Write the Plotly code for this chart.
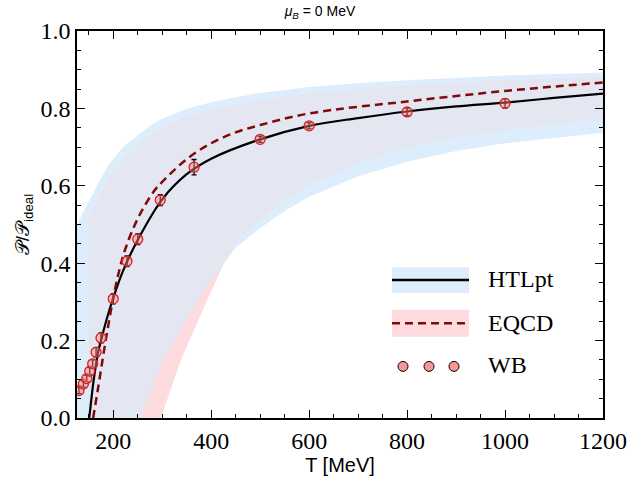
import numpy as np
import plotly.graph_objects as go

# ---------------- data ----------------
T_wb = [130, 139, 146, 152, 158, 165, 175, 200, 228, 250, 296, 365, 500, 600, 800, 1000]
P_wb = [0.071, 0.088, 0.102, 0.121, 0.140, 0.170, 0.207, 0.308, 0.405, 0.462, 0.563, 0.648,
        0.720, 0.755, 0.791, 0.813]
E_wb = [0.008, 0.008, 0.008, 0.009, 0.010, 0.012, 0.013, 0.013, 0.014, 0.014, 0.014, 0.020,
        0.008, 0.008, 0.010, 0.012]

T_htl = [151, 155, 159, 165, 170, 175, 180, 190, 200, 220, 250, 300, 350, 400, 500, 600,
         700, 800, 900, 1000, 1100, 1200]
P_htl = [0.0, 0.045, 0.088, 0.14, 0.175, 0.2, 0.225, 0.27, 0.31, 0.38, 0.46, 0.565, 0.63,
         0.67, 0.72, 0.755, 0.775, 0.792, 0.805, 0.815, 0.827, 0.838]

T_eqcd = [159, 170, 180, 190, 200, 212, 225, 250, 282, 300, 350, 400, 450, 500, 600, 800,
          1000, 1200]
P_eqcd = [0.0, 0.085, 0.165, 0.24, 0.31, 0.38, 0.438, 0.515, 0.584, 0.61, 0.669, 0.71,
          0.738, 0.757, 0.787, 0.818, 0.845, 0.867]

T_htl_up = [120, 126, 140, 153, 165, 175, 194, 220, 249, 275, 300, 325, 350, 400, 450, 500,
            600, 700, 800, 1000, 1200]
P_htl_up = [0.48, 0.498, 0.535, 0.567, 0.595, 0.62, 0.66, 0.70, 0.729, 0.755, 0.773, 0.787,
            0.799, 0.816, 0.829, 0.84, 0.855, 0.865, 0.873, 0.885, 0.893]
T_htl_lo = [120, 256, 280, 303, 340, 372, 400, 430, 450, 500, 550, 600, 700, 800, 900, 1000,
            1200]
P_htl_lo = [0.0, 0.0, 0.078, 0.15, 0.235, 0.30, 0.355, 0.405, 0.44, 0.49, 0.535, 0.572,
            0.625, 0.662, 0.69, 0.71, 0.737]

T_eq_up = [149, 175, 194, 220, 249, 275, 300, 350, 400, 450, 500, 600, 700, 800, 1000, 1200]
P_eq_up = [0.524, 0.58, 0.626, 0.67, 0.703, 0.73, 0.75, 0.776, 0.794, 0.808, 0.82, 0.837,
           0.849, 0.858, 0.872, 0.882]
T_eq_lo = [149, 297, 315, 338, 360, 390, 430, 450, 500, 550, 600, 700, 800, 900, 1000, 1200]
P_eq_lo = [0.0, 0.0, 0.065, 0.149, 0.215, 0.30, 0.41, 0.455, 0.515, 0.563, 0.603, 0.66,
           0.70, 0.725, 0.745, 0.775]

x_ticks = [200, 400, 600, 800, 1000, 1200]
y_ticks = [0.0, 0.2, 0.4, 0.6, 0.8, 1.0]

# ---------------- styling ----------------
SERIF = "Liberation Serif"
SANS = "Liberation Sans"
W, H = 640, 484
ML, MR, MT, MB = 77, 37, 31, 63
PW, PH = W - ML - MR, H - MT - MB

PINK = "rgb(253,219,222)"
BLUE = "rgb(221,237,251)"
OVER = "rgb(228,231,242)"
DRED = "rgb(128,10,10)"


def px(x):
    return (x - ML) / PW


def py(y):
    return (H - MB - y) / PH


# overlap region of the two bands (derived from the band edges)
grid = np.array(sorted(set(T_htl_up + T_htl_lo + T_eq_up + T_eq_lo +
                           list(range(150, 1201, 5)))), dtype=float)
grid = grid[grid >= T_eq_up[0]]
ov_up = np.minimum(np.interp(grid, T_htl_up, P_htl_up), np.interp(grid, T_eq_up, P_eq_up))
ov_lo = np.maximum(np.interp(grid, T_htl_lo, P_htl_lo), np.interp(grid, T_eq_lo, P_eq_lo))

fig = go.Figure()

fig.add_trace(go.Scatter(
    x=T_htl_up + T_htl_lo[::-1], y=P_htl_up + P_htl_lo[::-1],
    fill="toself", fillcolor=BLUE, line=dict(width=0), mode="lines",
    hoverinfo="skip", showlegend=False))
fig.add_trace(go.Scatter(
    x=T_eq_up + T_eq_lo[::-1], y=P_eq_up + P_eq_lo[::-1],
    fill="toself", fillcolor=PINK, line=dict(width=0), mode="lines",
    hoverinfo="skip", showlegend=False))
fig.add_trace(go.Scatter(
    x=list(grid) + list(grid[::-1]), y=list(ov_up) + list(ov_lo[::-1]),
    fill="toself", fillcolor=OVER, line=dict(width=0), mode="lines",
    hoverinfo="skip", showlegend=False))

fig.add_trace(go.Scatter(
    x=T_htl, y=P_htl, mode="lines", line=dict(color="black", width=2.2, shape="spline"),
    showlegend=False))
fig.add_trace(go.Scatter(
    x=T_eqcd, y=P_eqcd, mode="lines",
    line=dict(color=DRED, width=2.5, dash="8px,5px", shape="spline"),
    showlegend=False))

fig.add_trace(go.Scatter(
    x=T_wb, y=P_wb, mode="markers",
    error_y=dict(type="data", array=E_wb, color="black", thickness=1.3, width=2.5),
    marker=dict(size=10, color="rgba(255,130,130,0.45)",
                line=dict(color="rgb(225,30,30)", width=1.3)),
    showlegend=False))

# ---------------- hand-drawn legend ----------------
shapes = []
ann = []
lx0, lx1 = px(392), px(469)
shapes.append(dict(type="rect", xref="paper", yref="paper", x0=lx0, x1=lx1,
                   y0=py(295), y1=py(269), fillcolor=BLUE, line=dict(width=0), layer="above"))
shapes.append(dict(type="line", xref="paper", yref="paper", x0=lx0, x1=lx1,
                   y0=py(282), y1=py(282), line=dict(color="black", width=2.5), layer="above"))
shapes.append(dict(type="rect", xref="paper", yref="paper", x0=lx0, x1=lx1,
                   y0=py(339), y1=py(312), fillcolor=PINK, line=dict(width=0), layer="above"))
shapes.append(dict(type="line", xref="paper", yref="paper", x0=lx0, x1=lx1,
                   y0=py(325.5), y1=py(325.5), line=dict(color=DRED, width=2.5, dash="8px,5px"),
                   layer="above"))
for cx in (403, 429, 454):
    shapes.append(dict(type="circle", xref="paper", yref="paper",
                       x0=px(cx - 5), x1=px(cx + 5), y0=py(374), y1=py(364),
                       fillcolor="rgb(250,150,150)", line=dict(color="black", width=1),
                       layer="above"))
for label, yy in (("HTLpt", 281), ("EQCD", 325), ("WB", 368)):
    ann.append(dict(x=px(486), y=py(yy), xref="paper", yref="paper", text=label,
                    showarrow=False, xanchor="left", yanchor="middle",
                    font=dict(family=SERIF, size=24, color="black")))

axis_common = dict(
    showline=True, linecolor="black", linewidth=1.5, mirror="allticks",
    ticks="inside", ticklen=8, tickwidth=1.2, tickcolor="black",
    showgrid=False, zeroline=False,
    tickfont=dict(family=SERIF, size=24, color="black"),
)

fig.update_xaxes(
    range=[126, 1200], tickvals=x_ticks, ticktext=[str(v) for v in x_ticks],
    minor=dict(dtick=50, tick0=0, ticks="inside", ticklen=4, tickwidth=1, tickcolor="black"),
    title=dict(text="T [MeV]", font=dict(family=SANS, size=20, color="black"), standoff=4),
    **axis_common)
fig.update_yaxes(
    range=[0, 1], tickvals=y_ticks, ticktext=[f"{v:.1f}" for v in y_ticks],
    minor=dict(dtick=0.05, tick0=0, ticks="inside", ticklen=4, tickwidth=1, tickcolor="black"),
    title=dict(text="𝒫/𝒫<sub>ideal</sub>", font=dict(family=SANS, size=19, color="black"),
               standoff=6),
    **axis_common)

fig.update_layout(
    width=W, height=H,
    margin=dict(l=ML, r=MR, t=MT, b=MB, pad=0),
    paper_bgcolor="white", plot_bgcolor="white",
    title=dict(text="<i>μ</i><sub><i>B</i></sub> = 0 MeV", x=0.5, xanchor="center",
               y=1 - 11 / H, yanchor="middle",
               font=dict(family=SANS, size=14, color="black")),
    shapes=shapes, annotations=ann, showlegend=False,
)

fig.write_html("out.html",
               config=dict(displayModeBar=False),
               post_script="document.body.style.margin='0';document.body.style.padding='0';")
